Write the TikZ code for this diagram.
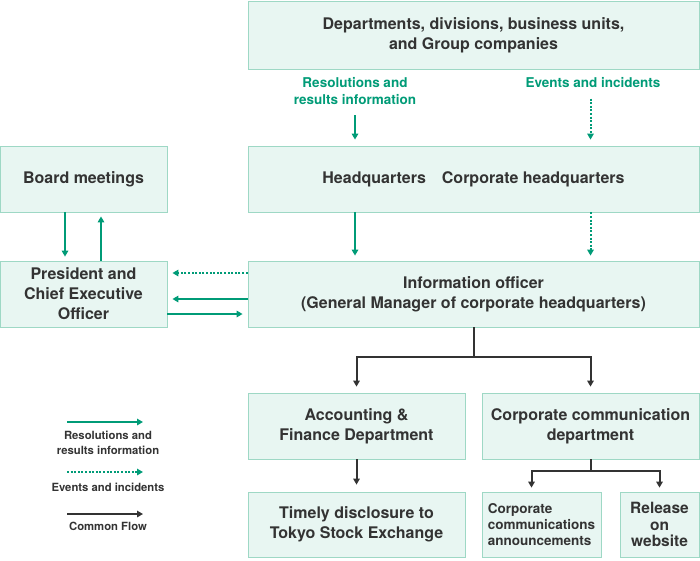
\documentclass[tikz,border=0pt]{standalone}
\usepackage{fontspec}
\setmainfont{TeX Gyre Heros}
\usetikzlibrary{arrows.meta}

\definecolor{boxfill}{HTML}{E8F6F2}
\definecolor{boxline}{HTML}{9ED8C5}
\definecolor{resgreen}{HTML}{009B77}
\definecolor{flowgray}{HTML}{333333}

\begin{document}
\begin{tikzpicture}[x=1pt, y=-1pt,
	>={Triangle[length=6pt,width=6.5pt]},
	box/.style={draw=boxline, fill=boxfill, line width=0.8pt, inner sep=0pt,
		align=center, text=flowgray,
		font=\fontsize{16}{20}\selectfont\bfseries},
	wide/.style={box, minimum width=451, minimum height=66},
	small/.style={box, minimum width=167, minimum height=66},
	half/.style={box, minimum width=217, minimum height=66},
	res/.style={->, draw=resgreen, line width=2pt},
	evt/.style={res, dash pattern=on 2pt off 1.6pt},
	flow/.style={->, draw=flowgray, line width=2pt},
	greenlbl/.style={text=resgreen, align=center,
		font=\fontsize{13.5}{17}\selectfont\bfseries},
	keylbl/.style={text=flowgray, align=center,
		font=\fontsize{11.3}{15}\selectfont\bfseries},
]

% bounding box %{{{1

	\useasboundingbox (0,0) rectangle (700,560);

% boxes %{{{1

	\node[wide, minimum height=68] (dept) at (473.5,35)
		{Departments, divisions, business units,\\and Group companies};
	\node[wide] (hq) at (473.5,179) {Headquarters\quad Corporate headquarters};
	\node[wide] (info) at (473.5,294)
		{Information officer\\(General Manager of corporate headquarters)};

	\node[small] (board) at (83.5,179) {Board meetings};
	\node[small] (pres) at (83.5,294) {President and\\Chief Executive\\Officer};

	\node[half] (acct) at (356.5,426) {Accounting \&\\Finance Department};
	\node[half] (ccd) at (590.5,426) {Corporate communication\\department};

	\node[half, minimum height=65] (tse) at (356.5,524.5)
		{Timely disclosure to\\Tokyo Stock Exchange};
	\node[box, minimum width=119, minimum height=65, align=left,
		font=\fontsize{13.5}{16}\selectfont\bfseries] (cca) at (541.5,524.5)
		{Corporate\\communications\\announcements};
	\node[box, minimum width=79, minimum height=65,
		font=\fontsize{15.5}{16.5}\selectfont\bfseries] (web) at (659.5,524.5)
		{Release\\on\\website};

% flow labels %{{{1

	\node[greenlbl] (lres) at (355,91) {Resolutions and\\results information};
	\node[greenlbl] (levt) at (593,83) {Events and incidents};

% green arrows %{{{1

	\draw[res, shorten <=7pt, shorten >=6pt] (lres.south) -- (lres.south |- hq.north);
	\draw[evt, shorten <=7pt, shorten >=6pt] (levt.south -| ccd.north) -- (ccd.north |- hq.north);

	\draw[res, shorten >=5pt] (hq.south -| lres.south) -- (info.north -| lres.south);
	\draw[evt, shorten >=5pt] (hq.south -| ccd.north) -- (info.north -| ccd.north);

	\draw[res, shorten >=4pt] ([xshift=-18.5pt]board.south) -- ([xshift=-18.5pt]pres.north);
	\draw[res, shorten >=4pt] ([xshift=17.5pt]pres.north) -- ([xshift=17.5pt]board.south);

	\draw[evt, shorten >=5pt] ([yshift=21pt]info.west) -- ([yshift=21pt]pres.east);
	\draw[res, shorten >=5pt] ([yshift=-5pt]info.west) -- ([yshift=-5pt]pres.east);
	\draw[res, shorten >=5pt] ([yshift=-20pt]pres.east) -- ([yshift=-20pt]info.west);

% common flow %{{{1

	\draw[flow, shorten >=6pt] (info.south) -- ++(0,30) -| (acct.north);
	\draw[flow, shorten >=6pt] (info.south) -- ++(0,30) -| (ccd.north);

	\draw[flow, shorten >=7pt] (acct.south) -- (tse.north);

	\draw[flow, shorten >=4pt] (ccd.south) -- ++(0,12) -| ([xshift=-10pt]cca.north);
	\draw[flow, shorten >=4pt] (ccd.south) -- ++(0,12) -| (web.north);

% legend %{{{1

	\coordinate (k1a) at (67,422);
	\coordinate (k1b) at (143,422);
	\coordinate (k2a) at (67,472);
	\coordinate (k2b) at (143,472);
	\coordinate (k3a) at (67,514);
	\coordinate (k3b) at (143,514);

	\draw[res] (k1a) -- (k1b);
	\draw[evt] (k2a) -- (k2b);
	\draw[flow] (k3a) -- (k3b);

	\node[keylbl] (kres) at (108,443) {Resolutions and\\results information};
	\node[keylbl] (kevt) at (108,487) {Events and incidents};
	\node[keylbl] (kflow) at (108,526) {Common Flow};

% closing %{{{1

\end{tikzpicture}
\end{document}
